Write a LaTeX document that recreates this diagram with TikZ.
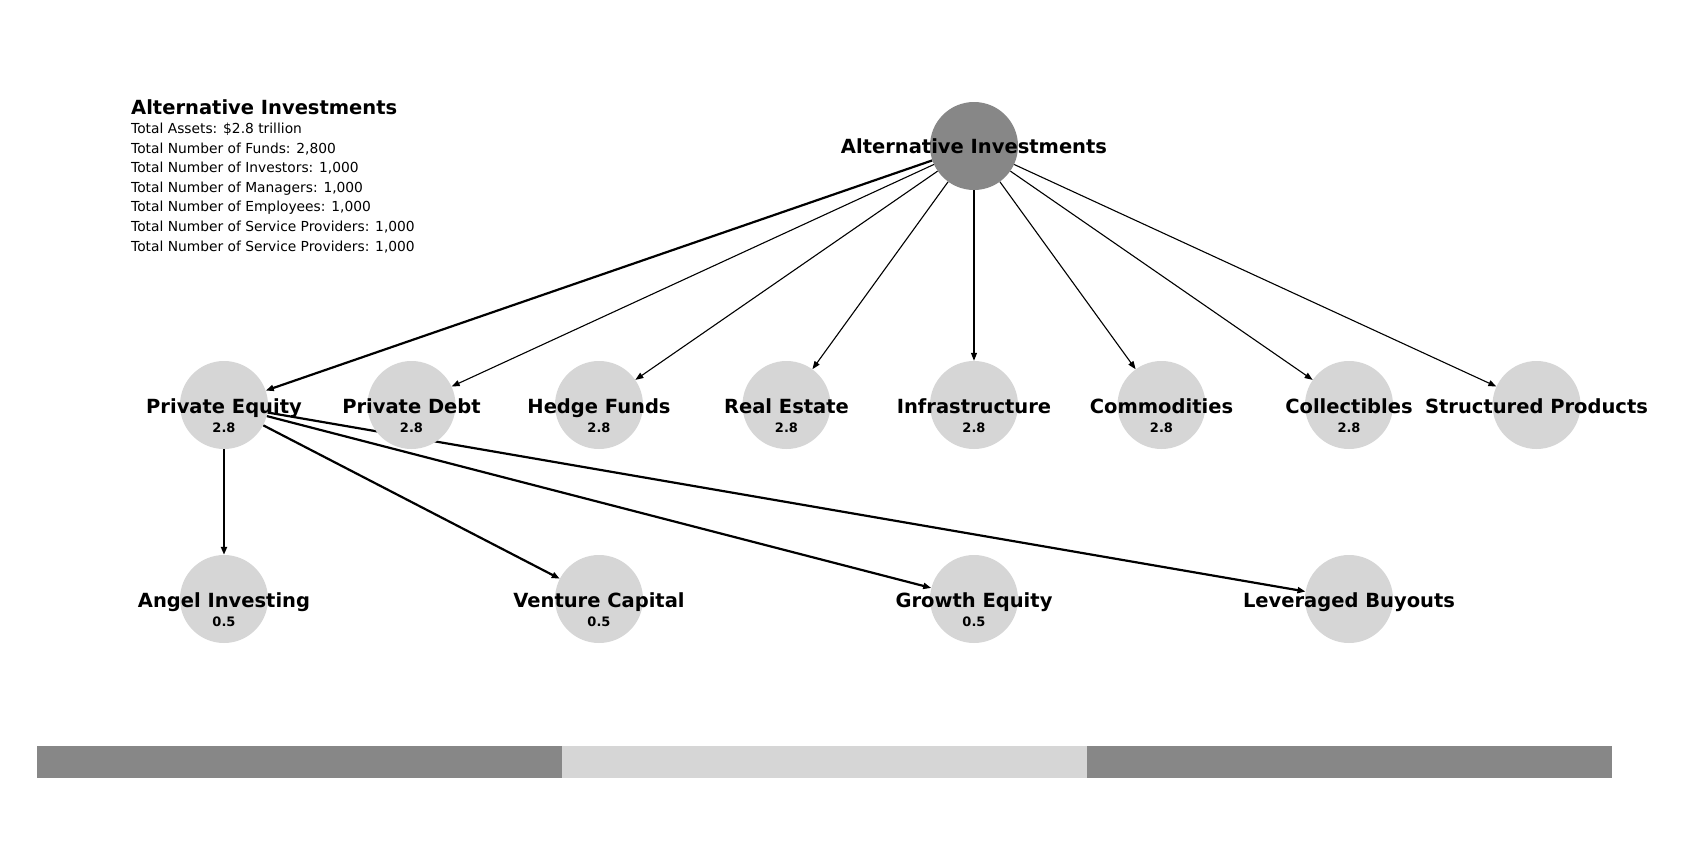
\documentclass[tikz,border=0pt]{standalone}
\usepackage{fontspec}
\setmainfont{DejaVu Sans}
\usetikzlibrary{arrows.meta}
\pgfdeclarelayer{paper}
\pgfdeclarelayer{edges}
\pgfsetlayers{paper,edges,main}
\definecolor{nodedark}{RGB}{135,135,135}
\definecolor{nodelight}{RGB}{214,214,214}
\tikzset{
  x=1pt, y=-1pt,
  rootdot/.style={circle, fill=nodedark, draw=none, minimum size=88pt, inner sep=0pt},
  catdot/.style={circle, fill=nodelight, draw=none, minimum size=88pt, inner sep=0pt},
  namelabel/.style={anchor=base, inner sep=0pt, font=\fontsize{19.5}{23}\selectfont\bfseries},
  valuelabel/.style={anchor=base, inner sep=0pt, font=\fontsize{13}{15}\selectfont\bfseries},
  infoline/.style={anchor=base west, inner sep=0pt, font=\fontsize{13.8}{16}\selectfont},
  thinedge/.style={-{Triangle[length=8pt,width=6pt]}, line width=1.1pt},
  thickedge/.style={-{Triangle[length=8pt,width=6pt]}, line width=2.2pt},
}
\begin{document}
\begin{tikzpicture}
\begin{pgfonlayer}{paper}
\fill[white] (0,0) rectangle (1695,859);
\end{pgfonlayer}
\useasboundingbox (0,0) rectangle (1695,859);

% summary block
\node[infoline, font=\fontsize{19.5}{23}\selectfont\bfseries] (title) at (131,114.5) {Alternative Investments};
\node[infoline] (i1) at (131,133.5) {Total Assets: \$2.8 trillion};
\node[infoline] (i2) at (131,153.1) {Total Number of Funds: 2,800};
\node[infoline] (i3) at (131,172.7) {Total Number of Investors: 1,000};
\node[infoline] (i4) at (131,192.3) {Total Number of Managers: 1,000};
\node[infoline] (i5) at (131,211.9) {Total Number of Employees: 1,000};
\node[infoline] (i6) at (131,231.5) {Total Number of Service Providers: 1,000};
\node[infoline] (i7) at (131,251.1) {Total Number of Service Providers: 1,000};

% circles
\node[rootdot] (root) at (974,146) {};
\node[catdot] (pe) at (224,405) {};
\node[catdot] (pd) at (411.5,405) {};
\node[catdot] (hf) at (599,405) {};
\node[catdot] (re) at (786.5,405) {};
\node[catdot] (inf) at (974,405) {};
\node[catdot] (com) at (1161.5,405) {};
\node[catdot] (col) at (1349,405) {};
\node[catdot] (sp) at (1536.5,405) {};
\node[catdot] (ai) at (224,599) {};
\node[catdot] (vc) at (599,599) {};
\node[catdot] (ge) at (974,599) {};
\node[catdot] (lb) at (1349,599) {};

% connectors, kept beneath the circles
\begin{pgfonlayer}{edges}
\draw[thickedge] (root) -- (pe);
\draw[thinedge] (root) -- (pd);
\draw[thinedge] (root) -- (hf);
\draw[thinedge] (root) -- (re);
\draw[thinedge] (root) -- (inf);
\draw[thinedge] (root) -- (com);
\draw[thinedge] (root) -- (col);
\draw[thinedge] (root) -- (sp);
\draw[thickedge] (pe) -- (ai);
\draw[thickedge] (pe) -- (vc);
\draw[thickedge] (pe) -- (ge);
\draw[thickedge] (pe) -- (lb);
\end{pgfonlayer}

% labels
\node[namelabel] (rootname) at (974,153) {Alternative Investments};
\node[namelabel] (pename) at (224,413) {Private Equity};
\node[valuelabel] (peval) at (224,432.3) {2.8};
\node[namelabel] (pdname) at (411.5,413) {Private Debt};
\node[valuelabel] (pdval) at (411.5,432.3) {2.8};
\node[namelabel] (hfname) at (599,413) {Hedge Funds};
\node[valuelabel] (hfval) at (599,432.3) {2.8};
\node[namelabel] (rename) at (786.5,413) {Real Estate};
\node[valuelabel] (reval) at (786.5,432.3) {2.8};
\node[namelabel] (infname) at (974,413) {Infrastructure};
\node[valuelabel] (infval) at (974,432.3) {2.8};
\node[namelabel] (comname) at (1161.5,413) {Commodities};
\node[valuelabel] (comval) at (1161.5,432.3) {2.8};
\node[namelabel] (colname) at (1349,413) {Collectibles};
\node[valuelabel] (colval) at (1349,432.3) {2.8};
\node[namelabel] (spname) at (1536.5,413) {Structured Products};
\node[namelabel] (ainame) at (224,607) {Angel Investing};
\node[valuelabel] (aival) at (224,626.3) {0.5};
\node[namelabel] (vcname) at (599,607) {Venture Capital};
\node[valuelabel] (vcval) at (599,626.3) {0.5};
\node[namelabel] (gename) at (974,607) {Growth Equity};
\node[valuelabel] (geval) at (974,626.3) {0.5};
\node[namelabel] (lbname) at (1349,607) {Leveraged Buyouts};

% bottom band
\fill[nodedark] (37,746) rectangle (562,778);
\fill[nodelight] (562,746) rectangle (1087,778);
\fill[nodedark] (1087,746) rectangle (1612,778);
\end{tikzpicture}
\end{document}
